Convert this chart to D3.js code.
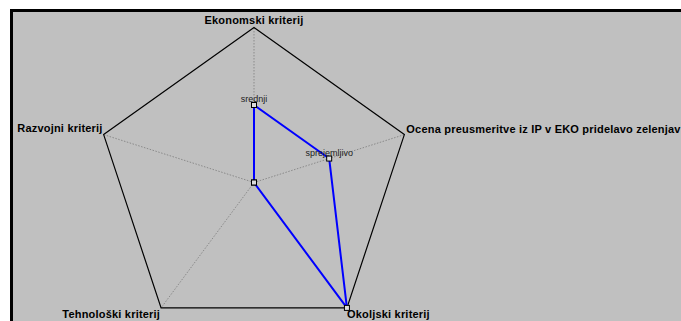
<!DOCTYPE html>
<html><head><meta charset="utf-8">
<script src="https://cdn.jsdelivr.net/npm/d3@7"></script>
<style>body{margin:0;background:#fff;}svg{display:block;}</style>
</head><body>
<svg id="c" width="681" height="321"></svg>
<script>
const axes = ["Ekonomski kriterij", "Ocena preusmeritve iz IP v EKO pridelavo zelenjav", "Okoljski kriterij", "Tehnološki kriterij", "Razvojni kriterij"];
const values = [2, 2, 4, 0, 0];
const pointLabels = ["srednji", "sprejemljivo", "", "", ""];
const maxValue = 4;

const svg = d3.select("#c");
const W = 681, H = 321;
svg.append("rect").attr("x", 0).attr("y", 0).attr("width", W).attr("height", H).attr("fill", "#fff");
svg.append("rect").attr("x", 11.5).attr("y", 10.5).attr("width", W + 10).attr("height", H + 10)
  .attr("fill", "#c0c0c0").attr("stroke", "#000").attr("stroke-width", 3);

const cx = 254, cy = 182.5, kx = 1.02;
const r = d3.scaleLinear().domain([0, maxValue]).range([0, 155]);
const ang = d3.scaleLinear().domain([0, axes.length]).range([0, 2 * Math.PI]);
const px = (i, v) => cx + r(v) * Math.sin(ang(i)) * kx;
const py = (i, v) => cy - r(v) * Math.cos(ang(i));

const g = svg.append("g");
// spokes
g.selectAll("line.spoke").data(axes).join("line")
  .attr("x1", cx).attr("y1", cy)
  .attr("x2", (d, i) => px(i, maxValue)).attr("y2", (d, i) => py(i, maxValue))
  .attr("stroke", "#8a8a8a").attr("stroke-width", 1).attr("stroke-dasharray", "1.5,1.5");
// outer pentagon
const line = d3.line().x(d => d[0]).y(d => d[1]).curve(d3.curveLinearClosed);
g.append("path").attr("d", line(axes.map((d, i) => [px(i, maxValue), py(i, maxValue)])))
  .attr("fill", "none").attr("stroke", "#000").attr("stroke-width", 1.2);
// data
g.append("path").attr("d", line(values.map((v, i) => [px(i, v), py(i, v)])))
  .attr("fill", "none").attr("stroke", "#0000ff").attr("stroke-width", 2);
g.selectAll("rect.m").data(values).join("rect")
  .attr("x", (v, i) => px(i, v) - 2.5).attr("y", (v, i) => py(i, v) - 2.5)
  .attr("width", 5).attr("height", 5).attr("fill", "#dcdcdc").attr("stroke", "#000").attr("stroke-width", 1);
g.selectAll("text.pl").data(values).join("text")
  .attr("x", (v, i) => px(i, v)).attr("y", (v, i) => py(i, v) - 3)
  .attr("text-anchor", "middle").attr("font-family", "Liberation Sans, Arial, sans-serif")
  .attr("font-size", 9).attr("fill", "#222").text((v, i) => pointLabels[i]);

// axis labels
const labelPos = [
  {dx: 0, dy: -4, anchor: "middle"},
  {dx: 2, dy: -1.5, anchor: "start"},
  {dx: 0, dy: 10, anchor: "start"},
  {dx: -1, dy: 10, anchor: "end"},
  {dx: -1, dy: -3, anchor: "end"}
];
g.selectAll("text.ax").data(axes).join("text")
  .attr("x", (d, i) => px(i, maxValue) + labelPos[i].dx)
  .attr("y", (d, i) => py(i, maxValue) + labelPos[i].dy)
  .attr("text-anchor", (d, i) => labelPos[i].anchor)
  .attr("font-family", "Liberation Sans, Arial, sans-serif").attr("font-weight", "bold")
  .attr("font-size", 11).attr("letter-spacing", 0.2).attr("fill", "#000").text(d => d);
</script>
</body></html>
